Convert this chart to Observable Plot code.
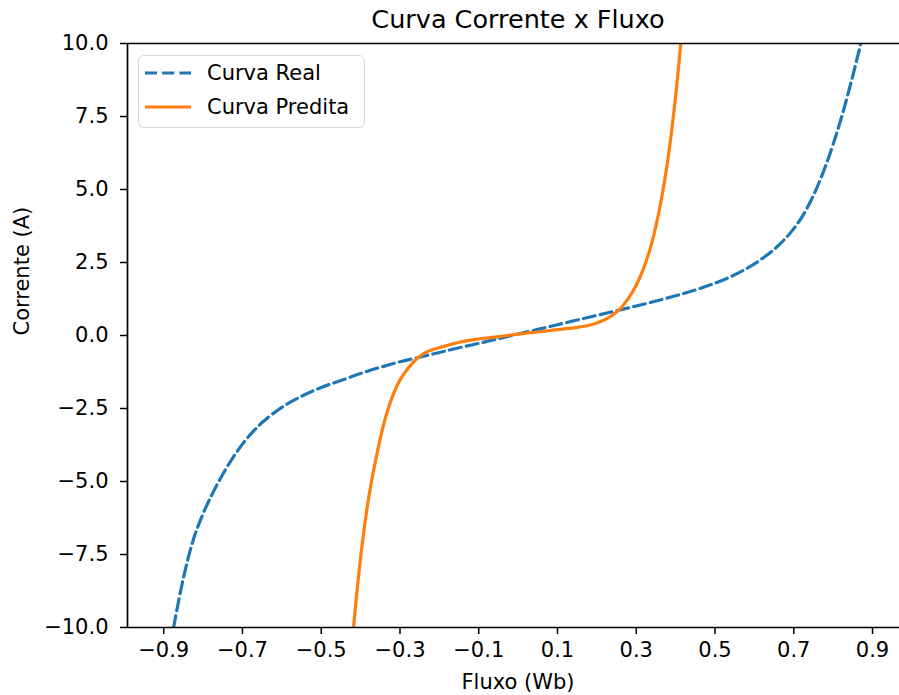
<!DOCTYPE html>
<html>
<head>
<meta charset="utf-8">
<script src="https://cdn.jsdelivr.net/npm/d3@7"></script>
<script src="https://cdn.jsdelivr.net/npm/@observablehq/plot@0.6"></script>
<style>
  html, body { margin: 0; padding: 0; background: #fff; }
  #wrap { position: relative; width: 899px; height: 695px; font-family: "DejaVu Sans", sans-serif; }
  #legend { position: absolute; left: 138px; top: 55px; width: 225px; height: 71px;
    border: 1.5px solid #d6d6d6; border-radius: 6px; background: rgba(255,255,255,0.8);
    font-family: "DejaVu Sans", sans-serif; font-size: 21px; color: #000; }
  .item { position: absolute; left: 6px; display: flex; align-items: center; }
  .item span { margin-left: 16px; }
</style>
</head>
<body>
<div id="wrap"></div>
<script>
// Data
const titleText = "Curva Corrente x Fluxo";
const xLabel = "Fluxo (Wb)";
const yLabel = "Corrente (A)";
const seriesNames = ["Curva Real", "Curva Predita"];
const seriesColors = ["#1f77b4", "#ff7f0e"];

const realX = [-0.875,-0.85,-0.825,-0.80,-0.775,-0.75,-0.725,-0.70,-0.675,-0.65,-0.60,-0.55,-0.50,-0.45,-0.40,-0.35,-0.30,-0.25,-0.20,-0.15,-0.10,-0.05,0,0.05,0.10,0.15,0.20,0.25,0.30,0.35,0.40,0.45,0.50,0.55,0.60,0.65,0.675,0.70,0.725,0.75,0.775,0.80,0.825,0.85,0.872];
const realY = [-10.0,-8.30,-7.0,-6.10,-5.38,-4.75,-4.20,-3.72,-3.32,-2.98,-2.46,-2.08,-1.78,-1.54,-1.30,-1.09,-0.90,-0.74,-0.58,-0.42,-0.27,-0.11,0.05,0.21,0.37,0.53,0.69,0.85,1.01,1.18,1.36,1.56,1.79,2.08,2.45,2.95,3.27,3.66,4.15,4.80,5.60,6.55,7.65,8.90,10.1];

const predX = [-0.418,-0.40,-0.38,-0.36,-0.34,-0.32,-0.30,-0.28,-0.26,-0.24,-0.22,-0.20,-0.15,-0.10,-0.05,0,0.05,0.10,0.15,0.18,0.20,0.22,0.24,0.26,0.28,0.30,0.32,0.34,0.36,0.38,0.40,0.413];
const predY = [-10.0,-7.6,-5.6,-4.15,-2.97,-2.12,-1.52,-1.13,-0.83,-0.62,-0.50,-0.42,-0.23,-0.12,-0.04,0.05,0.12,0.20,0.28,0.35,0.43,0.54,0.70,0.93,1.27,1.72,2.35,3.2,4.4,6.0,8.2,10.0];

const xTicks = [-0.9,-0.7,-0.5,-0.3,-0.1,0.1,0.3,0.5,0.7,0.9];
const yTicks = [-10,-7.5,-5,-2.5,0,2.5,5,7.5,10];
const xDomain = [-0.992, 0.9685];
const yDomain = [-10, 10];

const real = realX.map((x, i) => ({x, y: realY[i]}));
const pred = predX.map((x, i) => ({x, y: predY[i]}));
const fmt = d => d.toFixed(1).replace("-", "\u2212");
const FONT = "DejaVu Sans";

const chart = Plot.plot({
  width: 899,
  height: 695,
  marginLeft: 127,
  marginRight: 0,
  marginTop: 43,
  marginBottom: 68,
  style: {fontFamily: FONT, color: "#000", background: "#fff", overflow: "visible"},
  x: {domain: xDomain},
  y: {domain: yDomain},
  marks: [
    Plot.line(real, {x: "x", y: "y", stroke: seriesColors[0], strokeWidth: 3.2, strokeDasharray: "12,5.2", curve: "catmull-rom", clip: true}),
    Plot.line(pred, {x: "x", y: "y", stroke: seriesColors[1], strokeWidth: 3.2, curve: "catmull-rom", clip: true}),
    Plot.axisX({ticks: xTicks, tickFormat: fmt, tickSize: 7, tickPadding: 8, fontSize: 21, label: null, strokeWidth: 1.5}),
    Plot.axisY({ticks: yTicks, tickFormat: fmt, tickSize: 7, tickPadding: 12, fontSize: 21, label: null, strokeWidth: 1.5}),
    Plot.ruleX([xDomain[0]], {stroke: "#000", strokeWidth: 1.7}),
    Plot.ruleY([yDomain[0], yDomain[1]], {stroke: "#000", strokeWidth: 1.7}),
    Plot.text([titleText], {frameAnchor: "top", dx: 4.5, dy: -24, fontSize: 25.5, fill: "#000", lineAnchor: "middle", text: d => d}),
    Plot.text([xLabel], {frameAnchor: "bottom", dx: 4.5, dy: 55, fontSize: 21, fill: "#000", lineAnchor: "middle", text: d => d}),
    Plot.text([yLabel], {frameAnchor: "left", dx: -105, dy: 0, rotate: -90, fontSize: 21, fill: "#000", lineAnchor: "middle", text: d => d})
  ]
});

const wrap = document.getElementById("wrap");
wrap.appendChild(chart);

const legend = document.createElement("div");
legend.id = "legend";
const tops = [5, 39];
seriesNames.forEach((name, i) => {
  const item = document.createElement("div");
  item.className = "item";
  item.style.top = tops[i] + "px";
  const dash = i === 0 ? 'stroke-dasharray="12,5.2"' : '';
  item.innerHTML = `<svg width="46" height="24"><line x1="0" y1="12" x2="46" y2="12" stroke="${seriesColors[i]}" stroke-width="3.2" ${dash}/></svg><span>${name}</span>`;
  legend.appendChild(item);
});
wrap.appendChild(legend);
</script>
</body>
</html>
